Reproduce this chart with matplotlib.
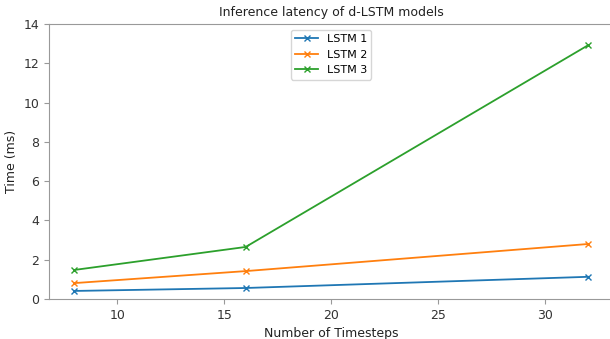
import matplotlib.pyplot as plt

timesteps = [8, 16, 32]
lstm1 = [0.41, 0.56, 1.13]
lstm2 = [0.81, 1.42, 2.80]
lstm3 = [1.48, 2.65, 12.92]

plt.rcParams['axes.edgecolor'] = '#999999'
plt.rcParams['xtick.color'] = '#999999'
plt.rcParams['ytick.color'] = '#999999'
plt.rcParams['xtick.labelcolor'] = '#333333'
plt.rcParams['ytick.labelcolor'] = '#333333'
plt.rcParams['axes.labelcolor'] = '#222222'

fig = plt.figure(figsize=(6.1, 3.39), dpi=100)
ax = fig.add_axes([0.080, 0.118, 0.926, 0.811])

ax.plot(timesteps, lstm1, marker='x', markersize=5, lw=1.3, label='LSTM 1')
ax.plot(timesteps, lstm2, marker='x', markersize=5, lw=1.3, label='LSTM 2')
ax.plot(timesteps, lstm3, marker='x', markersize=5, lw=1.3, label='LSTM 3')

ax.set_xlim(6.8, 33.2)
ax.set_ylim(0, 14)
# the right edge of the axes falls just outside the image
ax.spines['right'].set_visible(False)
ax.set_xlabel('Number of Timesteps', fontsize=9)
ax.set_ylabel('Time (ms)', fontsize=9)
ax.set_title('Inference latency of d-LSTM models', fontsize=9, color='#222222')
ax.tick_params(labelsize=9)
ax.legend(loc='upper center', fontsize=8)

fig.savefig('out.png')
